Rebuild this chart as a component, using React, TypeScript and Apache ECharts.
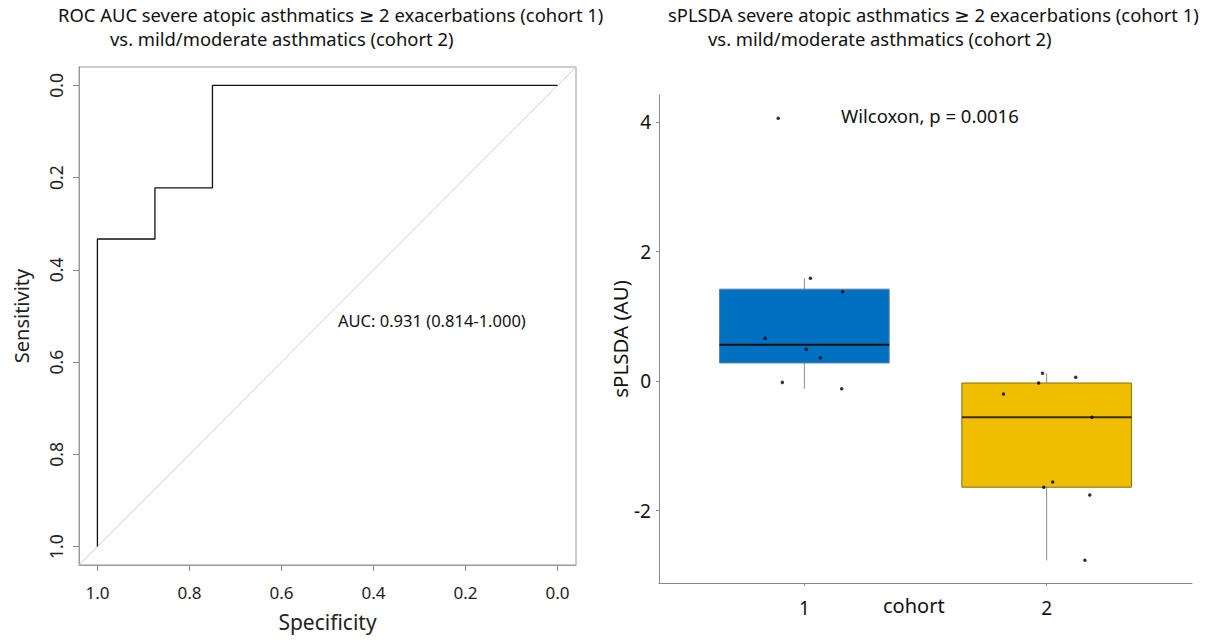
import React, { useEffect, useRef } from "react";
import * as echarts from "echarts";

// ROC curve (as drawn: specificity on x, sensitivity axis reversed)
const rocSpecificity = [1.0, 1.0, 0.875, 0.875, 0.75, 0.75, 0.0];
const rocSensitivity = [1.0, 0.333, 0.333, 0.222, 0.222, 0.0, 0.0];
const rocTicks = [0, 0.2, 0.4, 0.6, 0.8, 1.0];
const rocDiagonal = [-0.04, 1.04];

// sPLSDA scores by cohort
const cohorts = [1, 2];
const cohort1Values = [4.06, 1.59, 1.38, 0.66, 0.49, 0.36, -0.02, -0.12];
const cohort1Jitter = [-0.108, 0.025, 0.158, -0.162, 0.008, 0.066, -0.091, 0.154];
const cohort2Values = [0.12, 0.06, -0.03, -0.2, -0.56, -1.56, -1.64, -1.76, -2.77];
const cohort2Jitter = [-0.017, 0.12, -0.033, -0.178, 0.187, 0.025, -0.012, 0.178, 0.158];
// box stats: [lower whisker, q1, median, q3, upper whisker]
const cohort1Box = [-0.12, 0.28, 0.56, 1.42, 1.59];
const cohort2Box = [-2.77, -1.64, -0.56, -0.03, 0.12];
const scoreTicks = [-2, 0, 2, 4];

const FONT = "'Noto Sans', 'DejaVu Sans', sans-serif";

export default function App() {
  const ref = useRef<HTMLDivElement>(null);
  useEffect(() => {
    if (!ref.current) return;
    const chart = echarts.init(ref.current, undefined, { renderer: "svg" });

    const rocData = rocSpecificity.map((s, i) => [s, rocSensitivity[i]]);
    const boxData = [
      [cohorts[0], ...cohort1Box, 0],
      [cohorts[1], ...cohort2Box, 1],
    ];
    const pts1 = cohort1Values.map((v, i) => [cohorts[0] + cohort1Jitter[i], v]);
    const pts2 = cohort2Values.map((v, i) => [cohorts[1] + cohort2Jitter[i], v]);
    const boxFill = ["#0070C0", "#F0BE00"];
    const boxStroke = ["#5b7fa6", "#8a6e10"];
    const medStroke = ["#111111", "#3a2e05"];

    const option: any = {
      animation: false,
      textStyle: { fontFamily: FONT },
      grid: [
        { left: 79, top: 67, width: 497, height: 498, show: true, borderColor: "#9a9a9a", borderWidth: 1, backgroundColor: "transparent" },
        { left: 659, top: 95, width: 533, height: 488, show: false },
      ],
      xAxis: [
        {
          gridIndex: 0, type: "value", min: -0.04, max: 1.04, inverse: true,
          axisLine: { show: true, onZero: false, lineStyle: { color: "#9a9a9a" } },
          axisTick: { show: true, length: 6, lineStyle: { color: "#8a8a8a" }, customValues: rocTicks },
          axisLabel: { customValues: rocTicks, formatter: (v: number) => v.toFixed(1), fontSize: 17, color: "#222", margin: 19, fontFamily: FONT },
          splitLine: { show: false },
          name: "Specificity", nameLocation: "middle", nameGap: 46,
          nameTextStyle: { fontSize: 21, color: "#222", fontFamily: FONT },
        },
        {
          gridIndex: 1, type: "value", min: 0.4, max: 2.6,
          axisLine: { show: true, onZero: false, lineStyle: { color: "#8a8a8a" } },
          axisTick: { show: true, length: 3, lineStyle: { color: "#8a8a8a" }, customValues: cohorts },
          axisLabel: { customValues: cohorts, formatter: (v: number) => String(v), fontSize: 19, color: "#111", margin: 15, fontFamily: FONT },
          splitLine: { show: false },
        },
      ],
      yAxis: [
        {
          gridIndex: 0, type: "value", min: -0.04, max: 1.04, inverse: true,
          axisLine: { show: true, onZero: false, lineStyle: { color: "#9a9a9a" } },
          axisTick: { show: true, length: 6, lineStyle: { color: "#8a8a8a" }, customValues: rocTicks },
          axisLabel: { customValues: rocTicks, formatter: (v: number) => v.toFixed(1), fontSize: 17.5, color: "#222", margin: 14, rotate: 90, fontFamily: FONT },
          splitLine: { show: false },
          name: "Sensitivity", nameLocation: "middle", nameGap: 48,
          nameTextStyle: { fontSize: 20, color: "#222", fontFamily: FONT },
        },
        {
          gridIndex: 1, type: "value", min: -3.12, max: 4.42,
          axisLine: { show: true, onZero: false, lineStyle: { color: "#8a8a8a" } },
          axisTick: { show: true, length: 3, lineStyle: { color: "#8a8a8a" }, customValues: scoreTicks },
          axisLabel: { customValues: scoreTicks, formatter: (v: number) => String(v), fontSize: 19, color: "#111", margin: 8, fontFamily: FONT },
          splitLine: { show: false },
          name: "sPLSDA (AU)", nameLocation: "middle", nameGap: 24,
          nameTextStyle: { fontSize: 20.5, color: "#111", fontFamily: FONT },
        },
      ],
      series: [
        {
          type: "line", xAxisIndex: 0, yAxisIndex: 0, symbol: "none",
          data: [[rocDiagonal[1], rocDiagonal[1]], [rocDiagonal[0], rocDiagonal[0]]],
          lineStyle: { color: "#cfcfcf", width: 1 }, silent: true,
        },
        {
          type: "line", xAxisIndex: 0, yAxisIndex: 0, symbol: "none",
          data: rocData, lineStyle: { color: "#111", width: 1.3 },
        },
        {
          type: "custom", xAxisIndex: 1, yAxisIndex: 1, data: boxData,
          renderItem: (params: any, api: any) => {
            const x = api.value(0);
            const lo = api.value(1), q1 = api.value(2), med = api.value(3), q3 = api.value(4), hi = api.value(5);
            const ci = api.value(6);
            const half = api.size([0.7, 0])[0] / 2;
            const pLo = api.coord([x, lo]);
            const pQ1 = api.coord([x, q1]);
            const pMed = api.coord([x, med]);
            const pQ3 = api.coord([x, q3]);
            const pHi = api.coord([x, hi]);
            const cx = pMed[0];
            return {
              type: "group",
              children: [
                { type: "line", shape: { x1: cx, y1: pHi[1], x2: cx, y2: pQ3[1] }, style: { stroke: "#8a8a8a", lineWidth: 1 } },
                { type: "line", shape: { x1: cx, y1: pQ1[1], x2: cx, y2: pLo[1] }, style: { stroke: "#8a8a8a", lineWidth: 1 } },
                { type: "rect", shape: { x: cx - half, y: pQ3[1], width: 2 * half, height: pQ1[1] - pQ3[1] }, style: { fill: boxFill[ci], stroke: boxStroke[ci], lineWidth: 1 } },
                { type: "line", shape: { x1: cx - half, y1: pMed[1], x2: cx + half, y2: pMed[1] }, style: { stroke: medStroke[ci], lineWidth: 2 } },
              ],
            };
          },
        },
        {
          type: "scatter", xAxisIndex: 1, yAxisIndex: 1, data: [...pts1, ...pts2],
          symbolSize: 3.5, itemStyle: { color: "#000" }, z: 5,
        },
      ],
      graphic: [
        { type: "text", left: 58, top: 5, style: { text: "ROC AUC severe atopic asthmatics ≥ 2 exacerbations (cohort 1)", fontSize: 18.4, fontFamily: FONT, fill: "#111" } },
        { type: "text", left: 110, top: 29, style: { text: "vs. mild/moderate asthmatics (cohort 2)", fontSize: 18.4, fontFamily: FONT, fill: "#111" } },
        { type: "text", left: 668, top: 5, style: { text: "sPLSDA severe atopic asthmatics ≥ 2 exacerbations (cohort 1)", fontSize: 18.4, fontFamily: FONT, fill: "#111" } },
        { type: "text", left: 708, top: 29, style: { text: "vs. mild/moderate asthmatics (cohort 2)", fontSize: 18.4, fontFamily: FONT, fill: "#111" } },
        { type: "text", left: 338, top: 312, style: { text: "AUC: 0.931 (0.814-1.000)", fontSize: 16.5, fontFamily: FONT, fill: "#111" } },
        { type: "text", left: 841, top: 106, style: { text: "Wilcoxon, p = 0.0016", fontSize: 18.5, fontFamily: FONT, fill: "#111" } },
        { type: "text", left: 883, top: 595, style: { text: "cohort", fontSize: 20, fontFamily: FONT, fill: "#111" } },
      ],
    };
    chart.setOption(option);
    return () => chart.dispose();
  }, []);
  return <div ref={ref} style={{ position: "fixed", left: 0, top: 0, width: 1209, height: 642, background: "#fff" }} />;
}
